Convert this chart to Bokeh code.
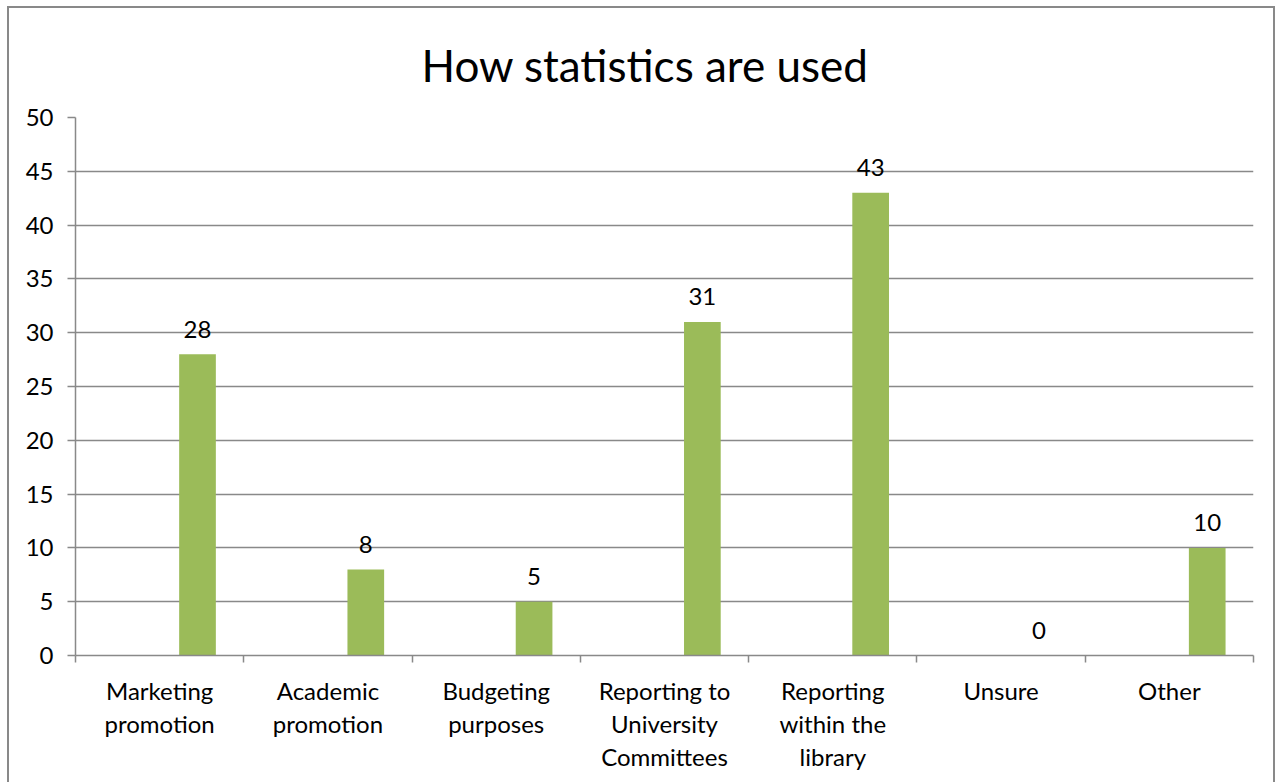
from bokeh.plotting import figure
from bokeh.models import Range1d, FixedTicker, ColumnDataSource
from bokeh.transform import dodge
from bokeh.core.properties import value
from bokeh.embed import file_html
from bokeh.resources import INLINE

# ---- data ----
categories = ["Marketing promotion", "Academic promotion", "Budgeting purposes",
              "Reporting to University Committees", "Reporting within the library",
              "Unsure", "Other"]
tick_labels = ["Marketing\npromotion", "Academic\npromotion", "Budgeting\npurposes",
               "Reporting to\nUniversity\nCommittees", "Reporting\nwithin the\nlibrary",
               "Unsure", "Other"]
values = [28, 8, 5, 31, 43, 0, 10]
y_ticks = [0, 5, 10, 15, 20, 25, 30, 35, 40, 45, 50]
title_text = "How statistics are used"

FONT = "Lato"
GRAY = "#898989"
GREEN = "#9BBB59"

n = len(categories)
centres = [i + 0.5 for i in range(n)]
src = ColumnDataSource(dict(cat=categories, xc=centres, val=values,
                            lab=[str(v) for v in values]))

p = figure(x_range=Range1d(0, n), y_range=Range1d(0, 50),
           width=1268, height=776,
           output_backend="svg", toolbar_location=None,
           min_border_left=66, min_border_right=24,
           min_border_top=109, min_border_bottom=129)
p.margin = (6, 0, 0, 7)
p.styles = {"border-top": f"2px solid {GRAY}",
            "border-left": f"2px solid {GRAY}",
            "border-right": f"2px solid {GRAY}"}

p.outline_line_color = None
p.background_fill_color = "white"
p.border_fill_color = "white"

# title
p.title.text = title_text
p.title.align = "left"
p.title.offset = 346
p.title.standoff = 54
p.title.text_font = FONT
p.title.text_font_size = "44px"
p.title.text_font_style = "normal"
p.title.text_color = "black"

# bars
xpos = dodge("xc", 0.225)
p.vbar(x=xpos, top="val", width=0.218, source=src,
       fill_color=GREEN, line_color=None)
p.text(x=xpos, y="val", text="lab", source=src,
       text_font=value(FONT), text_font_size="24px", text_color="black",
       text_align="center", text_baseline="alphabetic", y_offset=-25)

# y axis
yax = p.yaxis[0]
yax.ticker = FixedTicker(ticks=y_ticks)
yax.axis_line_color = GRAY
yax.axis_line_width = 1.5
yax.major_tick_line_color = GRAY
yax.major_tick_line_width = 1.5
yax.major_tick_in = 0
yax.major_tick_out = 8
yax.minor_tick_line_color = None
yax.major_label_text_font = FONT
yax.major_label_text_font_size = "24px"
yax.major_label_text_color = "black"
yax.major_label_standoff = 14

p.ygrid.ticker = FixedTicker(ticks=y_ticks)
p.ygrid.grid_line_color = GRAY
p.ygrid.grid_line_width = 1.5
p.xgrid.visible = False

# x axis: ticks at category boundaries, labels at centres
xax = p.xaxis[0]
xax.ticker = FixedTicker(ticks=centres, minor_ticks=list(range(n + 1)))
xax.major_label_overrides = {c: t for c, t in zip(centres, tick_labels)}
xax.axis_line_color = GRAY
xax.axis_line_width = 1.5
xax.major_tick_line_color = None
xax.major_tick_in = 0
xax.major_tick_out = 0
xax.minor_tick_line_color = GRAY
xax.minor_tick_line_width = 1.5
xax.minor_tick_in = 0
xax.minor_tick_out = 7
xax.major_label_text_font = FONT
xax.major_label_text_font_size = "24px"
xax.major_label_text_color = "black"
xax.major_label_text_line_height = 1.14
xax.major_label_standoff = 13

open("out.html", "w").write(file_html(p, INLINE))
